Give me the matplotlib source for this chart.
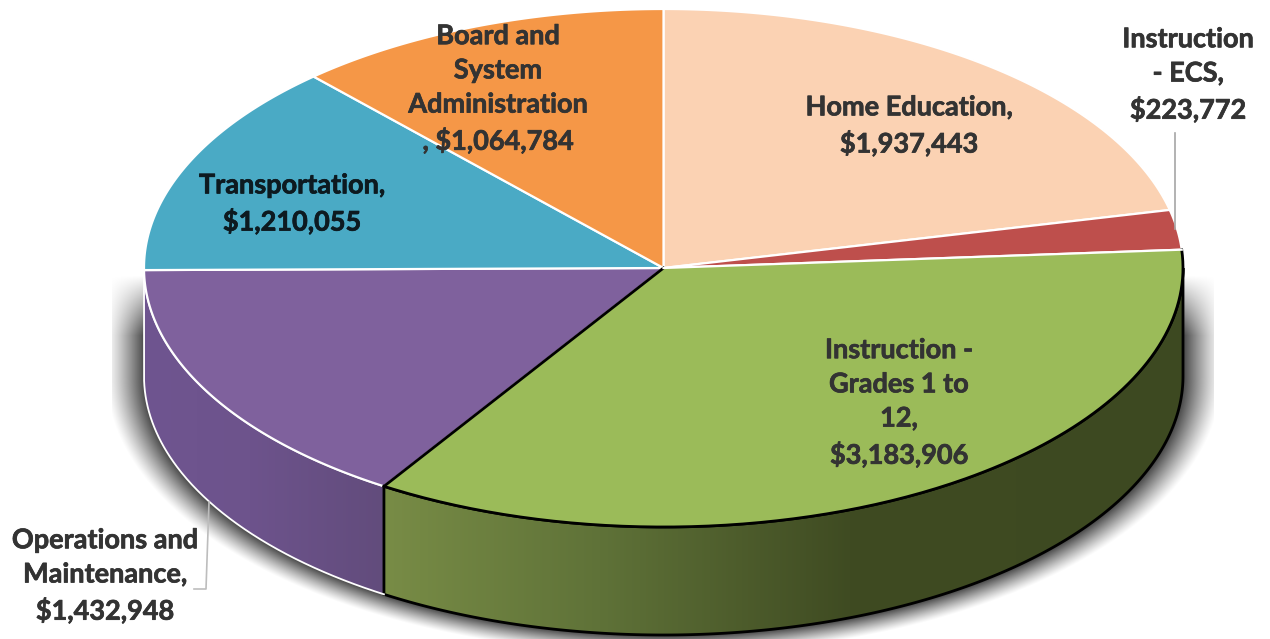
import numpy as np
import matplotlib
matplotlib.use("Agg")
import matplotlib.pyplot as plt
import matplotlib.patheffects as pe
from matplotlib.patches import Polygon
from matplotlib.colors import to_rgb

categories = ["Home Education", "Instruction - ECS", "Instruction - Grades 1 to 12",
              "Operations and Maintenance", "Transportation", "Board and System Administration"]
values = [1937443, 223772, 3183906, 1432948, 1210055, 1064784]
colors = ["#FBD2B3", "#BE4F4C", "#9BBB59", "#7F619D", "#4AAAC5", "#F59747"]
edges = ["#FFFFFF", "#FFFFFF", "#000000", "#FFFFFF", "#FFFFFF", "#FFFFFF"]
labels = ["Home Education,\n$1,937,443", "Instruction\n- ECS,\n$223,772",
          "Instruction -\nGrades 1 to\n12,\n$3,183,906", "Operations and\nMaintenance,\n$1,432,948",
          "Transportation,\n$1,210,055", "Board and\nSystem\nAdministration\n, $1,064,784"]
label_x = [909, 1188, 899, 105, 292, 498]
label_y = [126, 75, 403, 576, 204, 89]
label_colors = ["#333333", "#333333", "#333333", "#333333", "#0D1A20", "#333333"]

# pie geometry in picture pixels
W, H = 1270, 639
cx, cy, rx, ry, depth = 663.5, 268, 519.5, 259, 108

fig = plt.figure(figsize=(W / 100, H / 100), dpi=100)
ax = fig.add_axes([0, 0, 1, 1])


def arc(t0, t1, dy=0):
    t = np.radians(np.linspace(t0, t1, 200))
    return np.column_stack([cx + rx * np.cos(t), cy + dy + ry * np.sin(t)])


def gradient_wall(t0, t1, stops):
    # side of a slice, shaded left to right and clipped to its outline
    pts = np.vstack([arc(t0, t1), arc(t1, t0, depth)])
    x0, x1 = pts[:, 0].min(), pts[:, 0].max()
    xs = np.linspace(x0, x1, 400)
    pos = [s[0] for s in stops]
    rgb = np.array([to_rgb(s[1]) for s in stops])
    img = np.stack([np.interp(xs, pos, rgb[:, i]) for i in range(3)], axis=1)[None, :, :]
    im = ax.imshow(img, extent=[x0, x1, cy + ry + depth + 2, cy - 2], aspect="auto", zorder=2)
    poly = Polygon(pts, closed=True, fc="none", ec="none", zorder=2)
    ax.add_patch(poly)
    im.set_clip_path(poly)
    return pts


# soft shadow under the pie, cut off at both sides as in the original
xx, yy = np.meshgrid(np.arange(112, 1214), np.arange(270, H))
dy = np.maximum(yy - (cy + depth), 0)
r = np.sqrt(((xx - cx) / rx) ** 2 + (dy / ry) ** 2)
alpha = np.clip(1 - (r - 1) / 0.074, 0, 1) ** 1.2 * 0.72
alpha *= np.clip((yy - 275) / 60, 0, 1)
shadow = np.zeros(xx.shape + (4,))
shadow[..., 3] = alpha
ax.imshow(shadow, extent=[112, 1214, H, 270], aspect="auto", zorder=1)

angles = -90 + 360 * np.cumsum([0] + values) / np.sum(values)

# walls, only the part facing the viewer
grades_t0, grades_t1 = angles[2], angles[3]
ops_t0, ops_t1 = angles[3], angles[4]
pts = gradient_wall(max(grades_t0, 0), grades_t1,
                    [(385, "#788C46"), (600, "#5F7238"), (850, "#3F4B22"), (1183, "#3D4921")])
ax.add_patch(Polygon(pts, closed=True, fc="none", ec="#000000", lw=2, zorder=3))
pts = gradient_wall(ops_t0, min(ops_t1, 180), [(144, "#6F5590"), (250, "#6D538C"), (385, "#624C7C")])
ax.plot(pts[:, 0], pts[:, 1], color="#FFFFFF", lw=1.3, zorder=3)

# top face
for i in range(len(values)):
    a = arc(angles[i], angles[i + 1])
    verts = np.vstack([[cx, cy], a])
    if edges[i] != "#000000":
        ax.add_patch(Polygon(verts, closed=True, fc=colors[i], ec=edges[i], lw=1.6, zorder=4))
i = 2
verts = np.vstack([[cx, cy], arc(angles[i], angles[i + 1])])
ax.add_patch(Polygon(verts, closed=True, fc=colors[i], ec="none", zorder=5))
ax.plot(verts[1:, 0], verts[1:, 1], color="#000000", lw=2, zorder=6)
ax.plot([cx, verts[-1, 0]], [cy, verts[-1, 1]], color="#000000", lw=2, zorder=6)
ax.plot([cx, verts[1, 0]], [cy, verts[1, 1]], color="#FFFFFF", lw=1.6, zorder=6)

# leader lines
ax.plot([1175, 1175], [133, 229], color="#A6A6A6", lw=1.2, zorder=7)
ax.plot([209, 206, 194], [502, 589, 589], color="#BDBDBD", lw=1.2, zorder=7)

for i in range(len(labels)):
    t = ax.text(label_x[i], label_y[i], labels[i], ha="center", va="center", family="Lato",
                weight="bold", fontsize=19.5, color=label_colors[i], linespacing=1.51, zorder=8)
    t.set_path_effects([pe.withStroke(linewidth=0.5, foreground=label_colors[i])])

ax.set_xlim(0, W)
ax.set_ylim(H, 0)
ax.axis("off")
fig.savefig("out.png", dpi=100)
